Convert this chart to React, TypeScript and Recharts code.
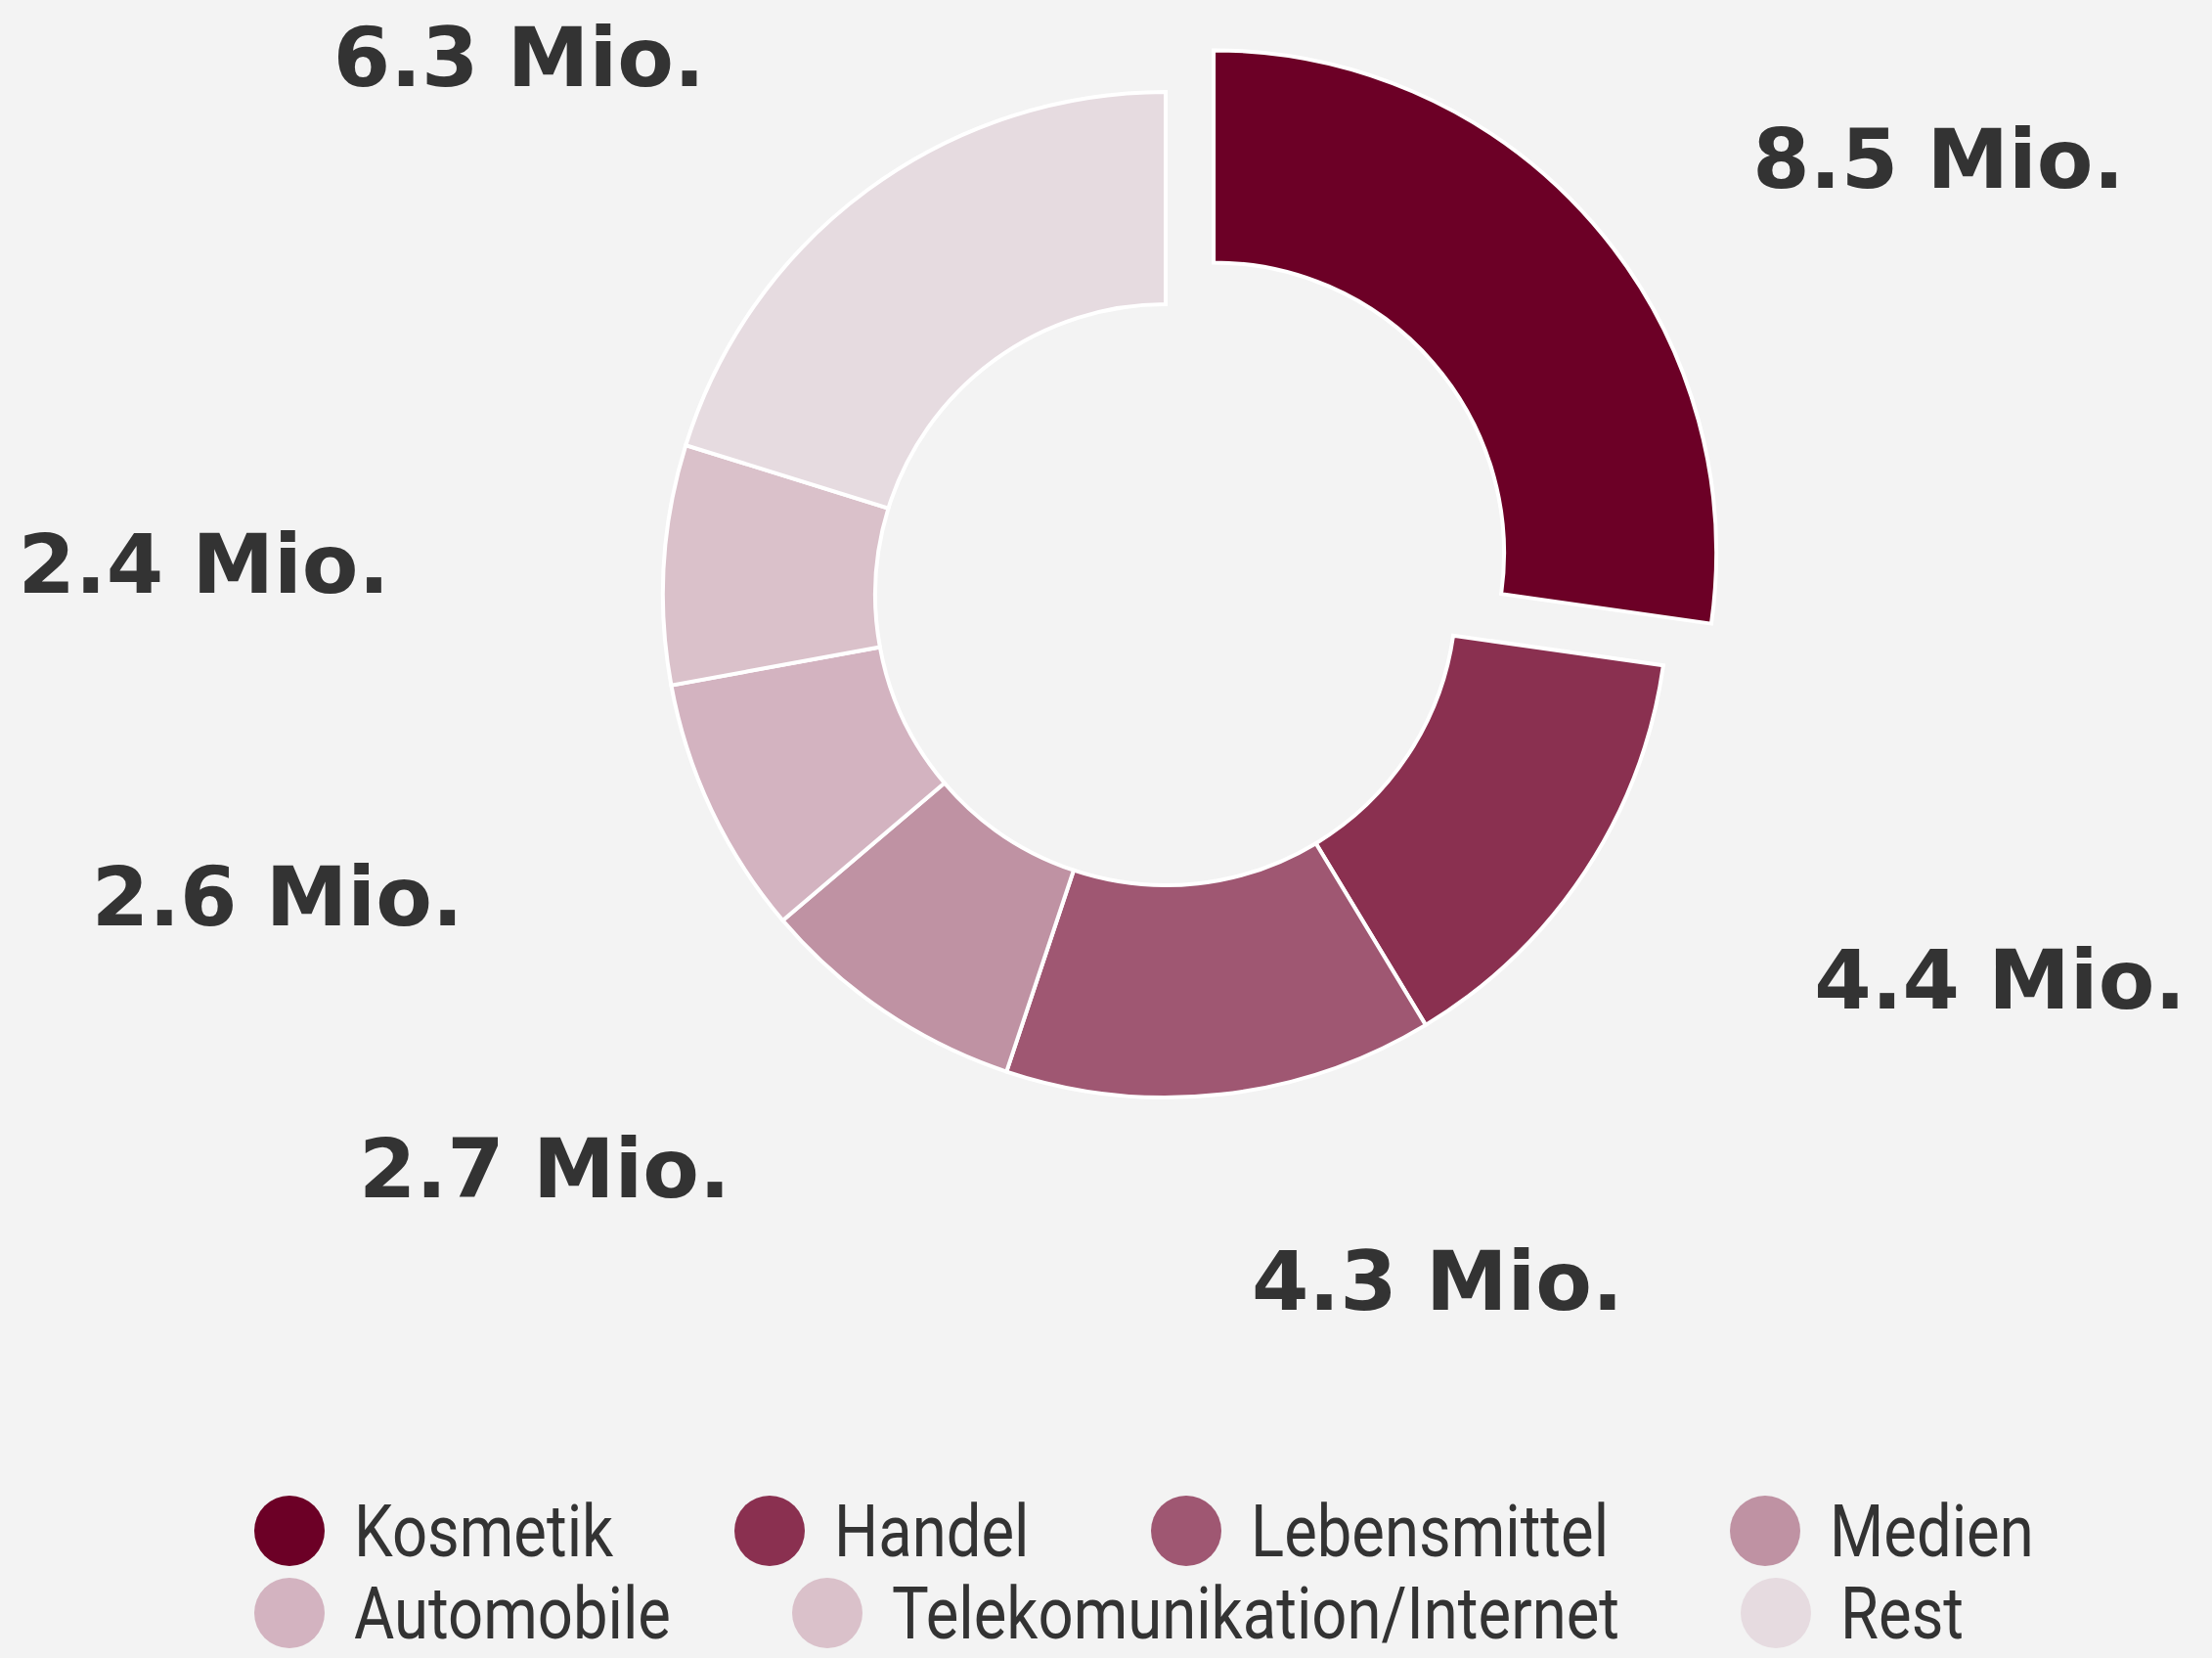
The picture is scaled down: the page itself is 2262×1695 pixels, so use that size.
import { PieChart, Pie, Cell, Legend } from 'recharts';

const categories = [
  'Kosmetik',
  'Handel',
  'Lebensmittel',
  'Medien',
  'Automobile',
  'Telekomunikation/Internet',
  'Rest',
];
const values = [8.5, 4.4, 4.3, 2.7, 2.6, 2.4, 6.3];
const colors = ['#6c0026', '#8a3050', '#9f5772', '#bf92a3', '#d3b3c0', '#dac1ca', '#e6dbe0'];

const data = categories.map((name, i) => ({ name, value: values[i] }));

const W = 2262;
const H = 1695;
const CX = 1187;
const CY = 603;
const INNER = 297;
const OUTER = 514;
const EXPLODE = 65;
// labels sit on an ellipse around the donut
const LABEL_RX = 795;
const LABEL_RY = 695;
const RAD = Math.PI / 180;

// shift the first slice (Kosmetik) outwards along its mid angle
const total = values.reduce((a, b) => a + b, 0);
const firstMid = 90 - (values[0] / total) * 180;
const exCx = CX + EXPLODE * Math.cos(firstMid * RAD);
const exCy = CY - EXPLODE * Math.sin(firstMid * RAD);

const ctx = typeof document !== 'undefined' ? document.createElement('canvas').getContext('2d') : null;
const measure = (t: string) => {
  if (!ctx) return t.length * 36;
  ctx.font = '75px Roboto';
  return ctx.measureText(t).width;
};
const SQUEEZE = 0.845;

const renderLabel = (props: any) => {
  const cx = props.cx ?? CX;
  const cy = props.cy ?? CY;
  const x = cx + LABEL_RX * Math.cos(-props.midAngle * RAD);
  const y = cy + LABEL_RY * Math.sin(-props.midAngle * RAD);
  return (
    <text
      x={x}
      y={y}
      dy={40}
      textAnchor={x >= cx ? 'start' : 'end'}
      fill="#333"
      fontFamily="'DejaVu Sans', sans-serif"
      fontWeight="bold"
      fontSize={84}
    >
      {props.value.toFixed(1)} Mio.
    </text>
  );
};

const renderLegend = () => (
  <div
    style={{
      display: 'flex',
      flexWrap: 'wrap',
      justifyContent: 'flex-start',
      columnGap: 124,
      width: W,
      paddingLeft: 260,
      boxSizing: 'border-box',
    }}
  >
    {categories.map((c, i) => (
      <div key={c} style={{ display: 'flex', alignItems: 'center', height: 84 }}>
        <span
          style={{
            width: 72,
            height: 72,
            flexShrink: 0,
            borderRadius: '50%',
            background: colors[i],
            marginRight: 30,
          }}
        />
        <span
          style={{
            display: 'inline-block',
            width: measure(c) * SQUEEZE,
            whiteSpace: 'nowrap',
            fontFamily: 'Roboto, sans-serif',
            fontSize: 75,
            lineHeight: '84px',
            color: '#333',
            transform: `scaleX(${SQUEEZE})`,
            transformOrigin: 'left center',
          }}
        >
          {c}
        </span>
      </div>
    ))}
  </div>
);

export default function App() {
  return (
    <div style={{ position: 'absolute', left: 0, top: 0, width: W, height: H, background: '#f3f3f3' }}>
      <PieChart width={W} height={H}>
        <Pie
          data={data}
          dataKey="value"
          nameKey="name"
          cx={CX}
          cy={CY}
          innerRadius={INNER}
          outerRadius={OUTER}
          startAngle={90}
          endAngle={-270}
          stroke="#fff"
          strokeWidth={4}
          label={renderLabel}
          labelLine={false}
          isAnimationActive={false}
        >
          {data.map((d, i) => (
            <Cell key={d.name} fill={i === 0 ? 'transparent' : colors[i]} stroke={i === 0 ? 'none' : '#fff'} />
          ))}
        </Pie>
        <Pie
          data={data}
          dataKey="value"
          nameKey="name"
          cx={exCx}
          cy={exCy}
          innerRadius={INNER}
          outerRadius={OUTER}
          startAngle={90}
          endAngle={-270}
          stroke="#fff"
          strokeWidth={4}
          legendType="none"
          isAnimationActive={false}
        >
          {data.map((d, i) => (
            <Cell key={d.name} fill={i === 0 ? colors[0] : 'transparent'} stroke={i === 0 ? '#fff' : 'none'} />
          ))}
        </Pie>
        <Legend content={renderLegend} wrapperStyle={{ position: 'absolute', left: 0, top: 1523, width: W }} />
      </PieChart>
    </div>
  );
}
